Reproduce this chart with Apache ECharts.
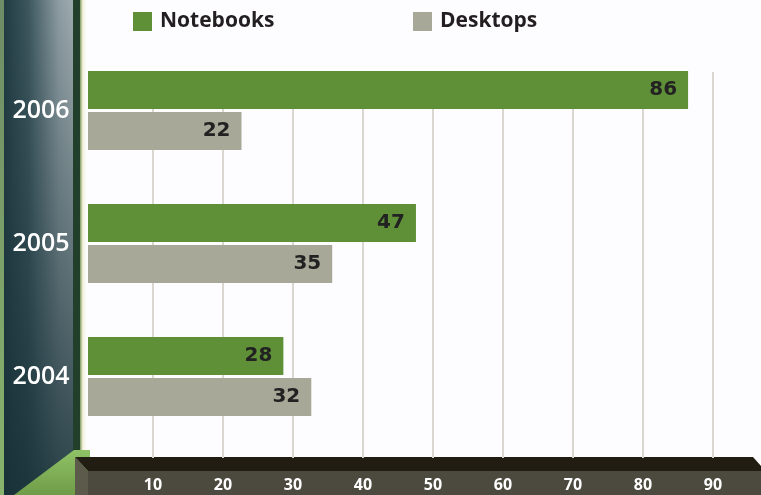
<!DOCTYPE html>
<html>
<head>
<meta charset="utf-8">
<script src="https://cdn.jsdelivr.net/npm/echarts@6/dist/echarts.min.js"></script>
<style>
  html, body { margin: 0; padding: 0; background: #fdfdff; }
  #chart { width: 761px; height: 495px; }
</style>
</head>
<body>
<div id="chart"></div>
<script>
// data
var years = ['2004', '2005', '2006']
var notebooks = [28, 47, 86]
var desktops = [32, 35, 22]
var gridTicks = [10, 20, 30, 40, 50, 60, 70, 80, 90]

var myChart = echarts.init(document.getElementById('chart'))

// left pillar + bottom base, decoration only
var decor = [
  // pillar body
  {
    type: 'rect', z: 0,
    shape: { x: 4, y: 0, width: 69, height: 495 },
    style: {
      fill: new echarts.graphic.LinearGradient(0, 0, 1, 0, [
        { offset: 0, color: '#223c44' },
        { offset: 0.35, color: '#3c565e' },
        { offset: 0.8, color: '#8e9da3' },
        { offset: 1, color: '#9eabb0' },
      ]),
    },
  },
  // darken towards the bottom
  {
    type: 'rect', z: 0,
    shape: { x: 4, y: 0, width: 69, height: 495 },
    style: {
      fill: new echarts.graphic.LinearGradient(0, 0, 0, 1, [
        { offset: 0, color: 'rgba(25,50,56,0)' },
        { offset: 0.4, color: 'rgba(25,50,56,0.35)' },
        { offset: 1, color: 'rgba(22,48,54,0.85)' },
      ]),
    },
  },
  // left green edge
  {
    type: 'rect', z: 0,
    shape: { x: 0, y: 0, width: 4, height: 495 },
    style: {
      fill: new echarts.graphic.LinearGradient(0, 0, 0, 1, [
        { offset: 0, color: '#6e8c66' },
        { offset: 1, color: '#88b46c' },
      ]),
    },
  },
  // dark green strip
  {
    type: 'rect', z: 0,
    shape: { x: 73, y: 0, width: 7, height: 495 },
    style: { fill: '#213f2a' },
  },
  // light fringe
  {
    type: 'rect', z: 0,
    shape: { x: 80, y: 0, width: 7, height: 495 },
    style: {
      fill: new echarts.graphic.LinearGradient(0, 0, 1, 0, [
        { offset: 0, color: '#7e9a62' },
        { offset: 0.4, color: '#f4f2dc' },
        { offset: 1, color: '#fdfdff' },
      ]),
    },
  },
  // green floor
  {
    type: 'polygon', z: 0,
    shape: { points: [[14, 495], [74, 450], [90, 450], [90, 495]] },
    style: {
      fill: new echarts.graphic.LinearGradient(0, 0, 0, 1, [
        { offset: 0, color: '#8fc266' },
        { offset: 1, color: '#6f9c48' },
      ]),
    },
  },
  // base top
  {
    type: 'polygon', z: 0,
    shape: { points: [[75, 457], [753, 457], [761, 466], [761, 471], [88, 471]] },
    style: { fill: '#221d12' },
  },
  // base left face
  {
    type: 'polygon', z: 0,
    shape: { points: [[75, 457], [88, 471], [88, 495], [75, 495]] },
    style: { fill: '#5b5a4b' },
  },
  // base front
  {
    type: 'rect', z: 0,
    shape: { x: 88, y: 471, width: 673, height: 24 },
    style: { fill: '#4c4a3e' },
  },
]

var barLabel = {
  show: true, position: 'insideRight', distance: 11,
  color: '#222222', fontFamily: 'DejaVu Sans', fontWeight: 'bold', fontSize: 20,
}
var legendText = {
  fontFamily: 'Open Sans', fontWeight: 'bold', fontSize: 21, color: '#231f20', padding: [0, 0, 0, 3],
}

var option = {
  backgroundColor: '#fdfdff',
  animation: false,
  graphic: { elements: decor },
  legend: [
    {
      data: ['Notebooks'],
      left: 133, top: 11, padding: 0,
      itemWidth: 19, itemHeight: 19,
      icon: 'rect',
      textStyle: legendText,
    },
    {
      data: ['Desktops'],
      left: 413, top: 11, padding: 0,
      itemWidth: 19, itemHeight: 19,
      icon: 'rect',
      textStyle: legendText,
    },
  ],
  grid: [
    // bars
    { left: 88, right: 45, top: 44, bottom: 52 },
    // gridlines + tick labels
    { left: 153, right: 48, top: 72, bottom: 37 },
  ],
  xAxis: [
    { gridIndex: 0, type: 'value', min: 0, max: 90, show: false },
    {
      gridIndex: 1, type: 'value', min: gridTicks[0], max: gridTicks[gridTicks.length - 1], interval: 10, z: 1,
      axisLine: { show: false },
      axisTick: { show: false },
      splitLine: { lineStyle: { color: '#d9d7cf', width: 2 } },
      axisLabel: { color: '#ffffff', fontFamily: 'Open Sans', fontWeight: 'bold', fontSize: 16, margin: 19 },
    },
  ],
  yAxis: [
    {
      gridIndex: 0, type: 'category', data: years, z: 3,
      axisLine: { show: false },
      axisTick: { show: false },
      axisLabel: {
        color: '#ffffff', fontFamily: 'Open Sans', fontWeight: 600, fontSize: 25,
        align: 'center', margin: 47, padding: [0, 0, 6, 0],
      },
    },
    { gridIndex: 1, type: 'value', show: false },
  ],
  series: [
    {
      name: 'Notebooks', type: 'bar', data: notebooks, z: 2,
      xAxisIndex: 0, yAxisIndex: 0,
      barWidth: 38, barGap: '8%',
      itemStyle: { color: '#5f9037' },
      label: barLabel,
    },
    {
      name: 'Desktops', type: 'bar', data: desktops, z: 2,
      xAxisIndex: 0, yAxisIndex: 0,
      barWidth: 38, barGap: '8%',
      itemStyle: { color: '#a7a898' },
      label: barLabel,
    },
  ],
}

myChart.setOption(option)
</script>
</body>
</html>
